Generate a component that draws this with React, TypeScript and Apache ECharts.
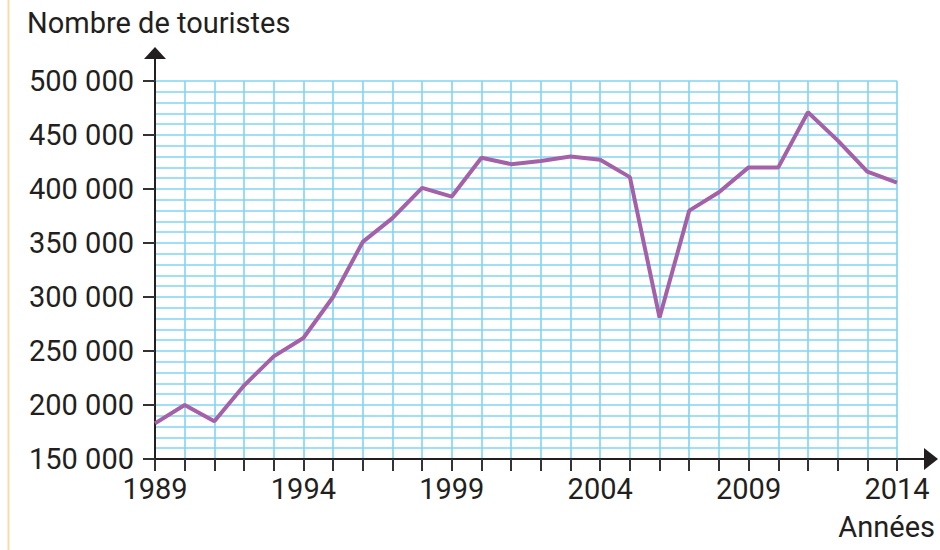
import React, { useEffect, useRef } from "react";
import * as echarts from "echarts";

const years = [
  "1989", "1990", "1991", "1992", "1993", "1994", "1995", "1996", "1997", "1998",
  "1999", "2000", "2001", "2002", "2003", "2004", "2005", "2006", "2007", "2008",
  "2009", "2010", "2011", "2012", "2013", "2014",
];
const tourists = [
  183000, 200000, 185000, 218000, 245000, 262000, 300000, 351000, 373000, 401000,
  393000, 429000, 423000, 426000, 430000, 427000, 411000, 281000, 380000, 397000,
  420000, 420000, 471000, 445000, 416000, 406000,
];
const yTitle = "Nombre de touristes";
const xTitle = "Années";

const fmt = (v: number) => String(v).replace(/\B(?=(\d{3})+(?!\d))/g, " ");

export default function App() {
  const ref = useRef<HTMLDivElement>(null);
  useEffect(() => {
    if (!ref.current) return;
    const chart = echarts.init(ref.current, null, { renderer: "svg" });
    const font = "Roboto, 'Noto Sans', sans-serif";
    const textColor = "#231f20";
    const blue = "#80d4f2";
    chart.setOption({
      animation: false,
      backgroundColor: "#ffffff",
      textStyle: { fontFamily: font },
      grid: { left: 155, right: 43, top: 81, bottom: 91, containLabel: false },
      xAxis: {
        type: "category",
        data: years,
        boundaryGap: false,
        axisLine: { show: true, lineStyle: { color: "#231f20", width: 2 } },
        axisTick: { show: true, interval: 0, length: 12, lineStyle: { color: "#333", width: 2 } },
        axisLabel: { interval: 4, color: textColor, fontSize: 29, fontFamily: font, margin: 15 },
        splitLine: { show: true, interval: 0, lineStyle: { color: blue, width: 1.6 } },
      },
      yAxis: {
        type: "value",
        min: 150000,
        max: 500000,
        interval: 50000,
        axisLine: { show: true, lineStyle: { color: "#231f20", width: 2 } },
        axisTick: { show: true, length: 12, lineStyle: { color: "#333", width: 2 } },
        minorTick: { show: false, splitNumber: 5 },
        axisLabel: { color: textColor, fontSize: 29, fontFamily: font, margin: 21, formatter: fmt },
        splitLine: { show: true, lineStyle: { color: blue, width: 1.6 } },
        minorSplitLine: { show: true, lineStyle: { color: blue, width: 1.6 } },
      },
      series: [
        {
          type: "line",
          data: tourists,
          symbol: "none",
          lineStyle: { color: "#a561a8", width: 4 },
          z: 5,
        },
      ],
      graphic: [
        { type: "line", shape: { x1: 8.5, y1: 0, x2: 8.5, y2: 550 }, style: { stroke: "#f7dcae", lineWidth: 2 } },
        { type: "line", shape: { x1: 155, y1: 81, x2: 155, y2: 58 }, style: { stroke: "#231f20", lineWidth: 2 } },
        { type: "polygon", shape: { points: [[144, 59], [166, 59], [155, 47]] }, style: { fill: "#231f20" } },
        { type: "line", shape: { x1: 897, y1: 459, x2: 925, y2: 459 }, style: { stroke: "#231f20", lineWidth: 2 } },
        { type: "polygon", shape: { points: [[924, 448], [924, 470], [938, 459]] }, style: { fill: "#231f20" } },
        { type: "text", left: 27, top: 8, style: { text: yTitle, fill: textColor, fontSize: 29, fontFamily: font } },
        { type: "text", right: 5, top: 512, style: { text: xTitle, fill: textColor, fontSize: 29, fontFamily: font } },
      ],
    });
    return () => chart.dispose();
  }, []);
  return (
    <div
      ref={ref}
      style={{ position: "absolute", left: 0, top: 0, width: 940, height: 550 }}
    />
  );
}
